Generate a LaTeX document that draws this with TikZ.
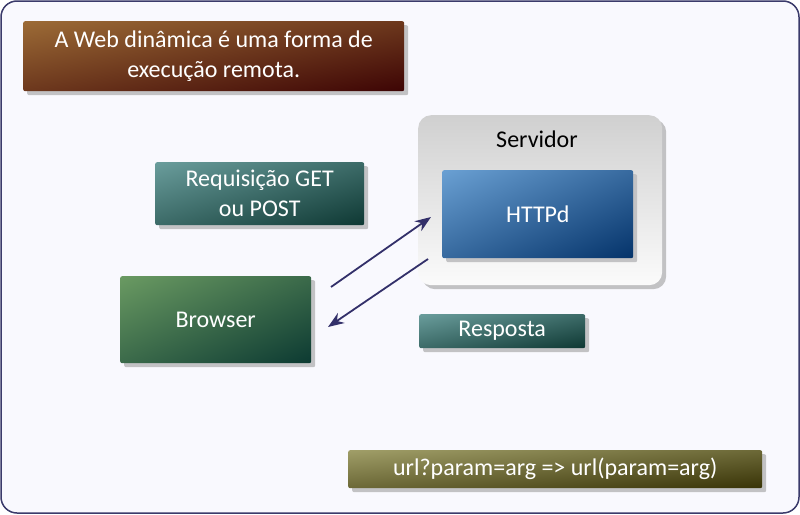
\documentclass[tikz,border=0pt]{standalone}
\usepackage{fontspec}
\setmainfont{Carlito}
\usetikzlibrary{arrows.meta,shadows,shadings}
\definecolor{frameC}{HTML}{3B3B6B}
\definecolor{bgC}{HTML}{F9F9FE}
\definecolor{arrC}{HTML}{33306A}
\definecolor{shC}{HTML}{C2C2C4}
\definecolor{brA}{HTML}{9C6B36}\definecolor{brB}{HTML}{3D0404}
\definecolor{tlA}{HTML}{6A9D9C}\definecolor{tlB}{HTML}{0E3833}
\definecolor{grA}{HTML}{6A9A62}\definecolor{grB}{HTML}{0C3A32}
\definecolor{blA}{HTML}{6AA0D3}\definecolor{blB}{HTML}{04336A}
\definecolor{olA}{HTML}{A09E68}\definecolor{olB}{HTML}{383306}
\definecolor{svA}{HTML}{D0D0D0}\definecolor{svB}{HTML}{FBFBFB}
\tikzset{
  gbox/.style n args={2}{draw=none, rounded corners=2pt, inner sep=0pt, anchor=north west,
    text=white, align=center, font=\fontsize{24}{30}\selectfont,
    upper left=#1, lower right=#2, upper right=#1!50!#2, lower left=#1!50!#2,
    drop shadow={shadow xshift=4pt, shadow yshift=-4pt, fill=shC, opacity=1}},
  arr/.style={draw=arrC, line width=1.8pt, -{Stealth[length=16pt,width=12pt]}},
}
\begin{document}
\begin{tikzpicture}[x=1pt,y=-1pt]
\useasboundingbox (0,0) rectangle (800,514);
\draw[frameC, fill=bgC, line width=1.5pt, rounded corners=16pt] (1,1) rectangle (799,513);
% title
\node[gbox={brA}{brB}, minimum width=381pt, minimum height=70pt] (title) at (23,21) {A Web dinâmica é uma forma de\\execução remota.};
% server container
\node[draw=none, rounded corners=13pt, inner sep=0pt, anchor=north west, minimum width=244pt, minimum height=170pt,
  top color=svA, bottom color=svB,
  drop shadow={shadow xshift=4pt, shadow yshift=-4pt, fill=shC, opacity=1}] (server) at (418,115) {};
\node[font=\fontsize{24}{28}\selectfont, text=black] (servlbl) at (537,139) {Servidor};
\node[gbox={blA}{blB}, minimum width=191pt, minimum height=88pt] (httpd) at (442,170) {HTTPd};
% request label
\node[gbox={tlA}{tlB}, minimum width=209pt, minimum height=63pt] (req) at (155,162) {Requisição GET\\ou POST};
% browser
\node[gbox={grA}{grB}, minimum width=191pt, minimum height=87pt] (browser) at (120,276) {Browser};
% response label
\node[gbox={tlA}{tlB}, minimum width=166pt, minimum height=34pt] (resp) at (419,314) {Resposta};
% url
\node[gbox={olA}{olB}, minimum width=414pt, minimum height=38pt] (url) at (348,450) {url?param=arg => url(param=arg)};
% arrows
\coordinate (a1s) at (331,287);
\coordinate (a1e) at (431,217);
\coordinate (a2s) at (428,259);
\coordinate (a2e) at (328,327);
\draw[arr] (a1s) -- (a1e);
\draw[arr] (a2s) -- (a2e);
\end{tikzpicture}
\end{document}
